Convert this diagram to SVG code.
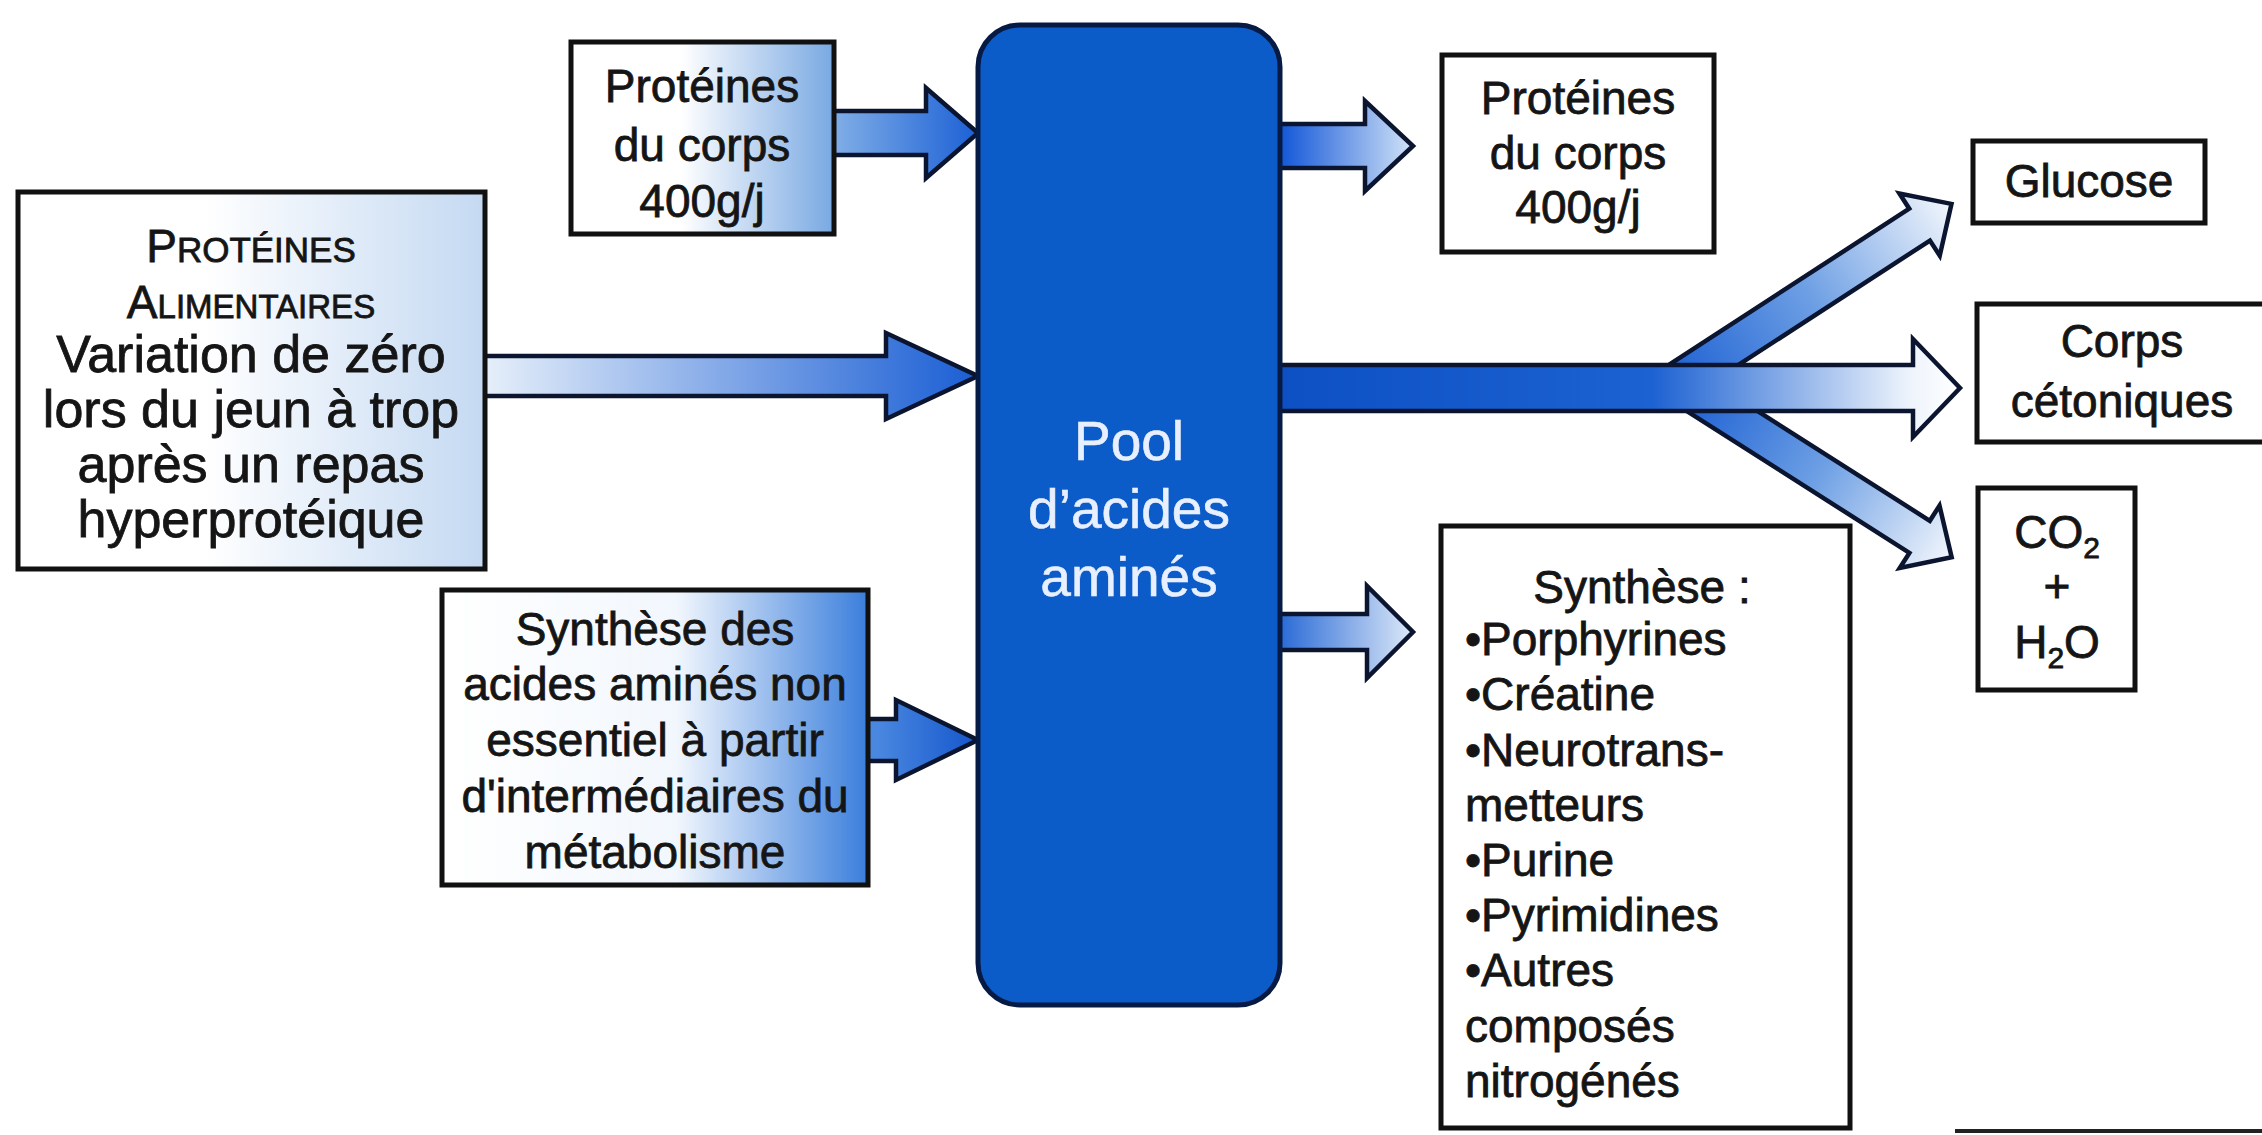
<svg xmlns="http://www.w3.org/2000/svg" width="2262" height="1135" viewBox="0 0 2262 1135">
<style>
  .box { stroke: #111; stroke-width: 5; }
  .arrow { stroke: #0b1530; stroke-width: 4.5; stroke-linejoin: miter; }
  .t { font-family: "Liberation Sans", Arial, sans-serif; font-size: 46px; fill: #151515; stroke: #151515; stroke-width: 0.8; text-anchor: middle; }
  .tl { font-family: "Liberation Sans", Arial, sans-serif; font-size: 46px; fill: #151515; stroke: #151515; stroke-width: 0.8; }
  .big { font-size: 52px; }
  .pool { font-family: "Liberation Sans", Arial, sans-serif; font-size: 55px; fill: #e8f0ff; stroke: #e8f0ff; stroke-width: 0.6; text-anchor: middle; }
</style>
<defs>
  <linearGradient id="bA" x1="0" y1="0" x2="1" y2="0">
    <stop offset="0" stop-color="#ffffff"/><stop offset="0.42" stop-color="#ffffff"/><stop offset="1" stop-color="#78a8e2"/>
  </linearGradient>
  <linearGradient id="bB" x1="0" y1="0" x2="1" y2="0">
    <stop offset="0" stop-color="#ffffff"/><stop offset="0.4" stop-color="#ffffff"/><stop offset="1" stop-color="#c4d9f2"/>
  </linearGradient>
  <linearGradient id="bC" x1="0" y1="0" x2="1" y2="0">
    <stop offset="0" stop-color="#ffffff"/><stop offset="0.55" stop-color="#f2f7fd"/><stop offset="1" stop-color="#3a7edc"/>
  </linearGradient>
  <linearGradient id="gA" gradientUnits="userSpaceOnUse" x1="834" y1="0" x2="978" y2="0">
    <stop offset="0" stop-color="#80aee6"/><stop offset="1" stop-color="#1c60d6"/>
  </linearGradient>
  <linearGradient id="gB" gradientUnits="userSpaceOnUse" x1="485" y1="0" x2="978" y2="0">
    <stop offset="0" stop-color="#e6effa"/><stop offset="1" stop-color="#1a5ed4"/>
  </linearGradient>
  <linearGradient id="gC" gradientUnits="userSpaceOnUse" x1="876" y1="0" x2="978" y2="0">
    <stop offset="0" stop-color="#4a88e0"/><stop offset="1" stop-color="#1556cc"/>
  </linearGradient>
  <linearGradient id="gD" gradientUnits="userSpaceOnUse" x1="1280" y1="0" x2="1413" y2="0">
    <stop offset="0" stop-color="#1256d8"/><stop offset="1" stop-color="#d2e3f7"/>
  </linearGradient>
  <linearGradient id="gS" gradientUnits="userSpaceOnUse" x1="1280" y1="0" x2="1413" y2="0">
    <stop offset="0" stop-color="#2a6ad6"/><stop offset="1" stop-color="#dde9f8"/>
  </linearGradient>
  <linearGradient id="gM" gradientUnits="userSpaceOnUse" x1="1280" y1="0" x2="1958" y2="0">
    <stop offset="0" stop-color="#0c50c4"/><stop offset="0.55" stop-color="#1d62d2"/><stop offset="0.93" stop-color="#eef4fc"/><stop offset="1" stop-color="#ffffff"/>
  </linearGradient>
  <linearGradient id="gDiag" x1="0" y1="0" x2="1" y2="0">
    <stop offset="0" stop-color="#1a5ed2"/><stop offset="0.5" stop-color="#6d9fe4"/><stop offset="1" stop-color="#f2f6fc"/>
  </linearGradient>
</defs>
<rect x="0" y="0" width="2262" height="1135" fill="#ffffff"/>

<g id="connectors">
  <polygon class="arrow" fill="url(#gA)" points="830,111 926,111 926,88 978,133 926,178 926,155 830,155"/>
  <polygon class="arrow" fill="url(#gB)" points="482,356 886,356 886,333 978,376 886,419 886,396 482,396"/>
  <polygon class="arrow" fill="url(#gC)" points="866,719 896,719 896,700 978,740 896,780 896,761 866,761"/>
  <polygon class="arrow" fill="url(#gD)" points="1276,124 1365,124 1365,101 1413,146 1365,191 1365,168 1276,168"/>
  <polygon class="arrow" fill="url(#gS)" points="1276,614 1367,614 1367,586 1413,632 1367,678 1367,650 1276,650"/>
  <polygon class="arrow" fill="url(#gDiag)" transform="translate(1668,388) rotate(-33)" points="0,-19 300,-19 300,-37 338,0 300,37 300,19 0,19"/>
  <polygon class="arrow" fill="url(#gDiag)" transform="translate(1686,388) rotate(32.5)" points="0,-19 277,-19 277,-37 315,0 277,37 277,19 0,19"/>
  <polygon class="arrow" fill="url(#gM)" points="1276,365 1913,365 1913,339 1960,388 1913,437 1913,411 1276,411"/>
</g>

<g id="node-proteines-corps-in">
  <rect class="box" x="571" y="42" width="263" height="192" fill="url(#bA)"/>
  <text class="t" x="702" y="102">Protéines</text>
  <text class="t" x="702" y="161">du corps</text>
  <text class="t" x="702" y="217">400g/j</text>
</g>

<g id="node-proteines-alimentaires">
  <rect class="box" x="18" y="192" width="467" height="377" fill="url(#bB)"/>
  <text class="t" x="251" y="262"><tspan>P</tspan><tspan font-size="35">ROTÉINES</tspan></text>
  <text class="t" x="251" y="318"><tspan>A</tspan><tspan font-size="33">LIMENTAIRES</tspan></text>
  <text class="t big" x="251" y="372">Variation de zéro</text>
  <text class="t big" x="251" y="427">lors du jeun à trop</text>
  <text class="t big" x="251" y="482">après un repas</text>
  <text class="t big" x="251" y="537">hyperprotéique</text>
</g>

<g id="node-synthese-aa">
  <rect class="box" x="442" y="590" width="426" height="295" fill="url(#bC)"/>
  <text class="t" x="655" y="645">Synthèse des</text>
  <text class="t" x="655" y="700">acides aminés non</text>
  <text class="t" x="655" y="756">essentiel à partir</text>
  <text class="t" x="655" y="812">d'intermédiaires du</text>
  <text class="t" x="655" y="868">métabolisme</text>
</g>

<g id="node-pool">
  <rect x="978" y="25" width="302" height="980" rx="42" ry="42" fill="#0b5cc8" stroke="#071a44" stroke-width="5"/>
  <text class="pool" x="1129" y="460">Pool</text>
  <text class="pool" x="1129" y="528">d’acides</text>
  <text class="pool" x="1129" y="596">aminés</text>
</g>

<g id="node-proteines-corps-out">
  <rect class="box" x="1442" y="55" width="272" height="197" fill="#ffffff"/>
  <text class="t" x="1578" y="114">Protéines</text>
  <text class="t" x="1578" y="169">du corps</text>
  <text class="t" x="1578" y="223">400g/j</text>
</g>

<g id="node-glucose">
  <rect class="box" x="1973" y="141" width="232" height="82" fill="#ffffff"/>
  <text class="t" x="2089" y="197">Glucose</text>
</g>

<g id="node-corps-cetoniques">
  <rect class="box" x="1977" y="304" width="300" height="138" fill="#ffffff"/>
  <text class="t" x="2122" y="357">Corps</text>
  <text class="t" x="2122" y="417">cétoniques</text>
</g>

<g id="node-co2-h2o">
  <rect class="box" x="1978" y="488" width="157" height="202" fill="#ffffff"/>
  <text class="t" x="2057" y="548">CO<tspan font-size="30" dy="10">2</tspan></text>
  <text class="t" x="2057" y="602">+</text>
  <text class="t" x="2057" y="658">H<tspan font-size="30" dy="10">2</tspan><tspan dy="-10">O</tspan></text>
</g>

<g id="node-synthese">
  <rect class="box" x="1441" y="526" width="409" height="602" fill="#ffffff"/>
  <text class="t" x="1642" y="603">Synthèse :</text>
  <text class="tl" x="1465" y="655">•Porphyrines</text>
  <text class="tl" x="1465" y="710">•Créatine</text>
  <text class="tl" x="1465" y="766">•Neurotrans-</text>
  <text class="tl" x="1465" y="821">metteurs</text>
  <text class="tl" x="1465" y="876">•Purine</text>
  <text class="tl" x="1465" y="931">•Pyrimidines</text>
  <text class="tl" x="1465" y="986">•Autres</text>
  <text class="tl" x="1465" y="1042">composés</text>
  <text class="tl" x="1465" y="1097">nitrogénés</text>
</g>

<g id="node-cut-off">
  <line x1="1955" y1="1131" x2="2262" y2="1131" stroke="#222" stroke-width="4"/>
</g>
</svg>
